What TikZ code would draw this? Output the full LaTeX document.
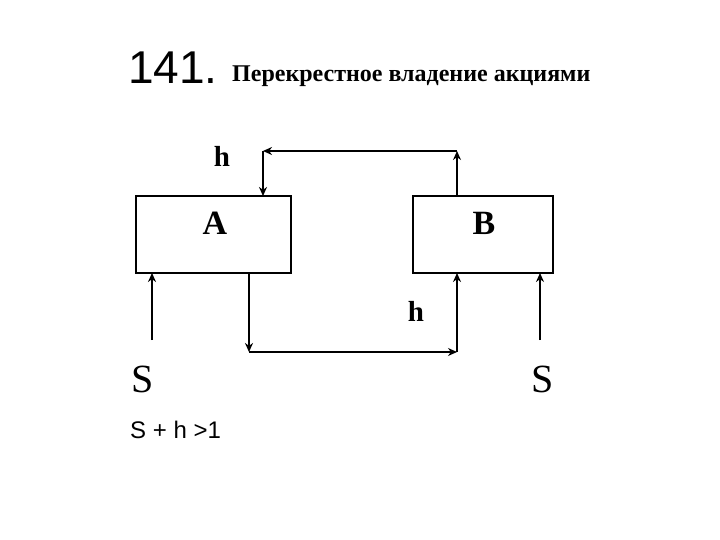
\documentclass[tikz,border=0pt]{standalone}
\usepackage{fontspec}
\setmainfont{Liberation Serif}
\newfontfamily\arial{Liberation Sans}
\usetikzlibrary{arrows.meta}
\begin{document}
\begin{tikzpicture}[x=1pt,y=-1pt,
  box/.style={draw,line width=1.5pt},
  seg/.style={line width=2.2pt,-{Stealth[length=9pt,width=8pt]}},
  lbl/.style={inner sep=0pt,font=\bfseries}]
\useasboundingbox (0,0) rectangle (720,540);
\node[anchor=base west,inner sep=0pt,font=\arial\fontsize{46}{46}\selectfont] (t1) at (128,84) {141.};
\node[anchor=base west,inner sep=0pt,font=\bfseries\fontsize{24}{24}\selectfont] (t2) at (232,82) {Перекрестное владение акциями};
\draw[box] (136,196) rectangle (291,273);
\node[minimum width=155pt,minimum height=77pt] (A) at (213.5,234.5) {};
\draw[box] (413,196) rectangle (553,273);
\node[minimum width=140pt,minimum height=77pt] (B) at (483,234.5) {};
\node[lbl,font=\bfseries\fontsize{34}{34}\selectfont] (la) at (215,223) {A};
\node[lbl,font=\bfseries\fontsize{34}{34}\selectfont] (lb) at (484,223) {B};
\coordinate (t1c) at (457,151);
\coordinate (t2c) at (263,151);
\coordinate (b1c) at (249,352);
\coordinate (b2c) at (457,352);
\draw[seg] (457,196) -- (t1c);
\draw[seg] (t1c) -- (t2c);
\draw[seg] (t2c) -- (263,196);
\draw[seg] (249,273) -- (b1c);
\draw[seg] (b1c) -- (b2c);
\draw[seg] (b2c) -- (457,273);
\draw[seg] (152,340) -- (152,273);
\draw[seg] (540,340) -- (540,273);
\node[lbl,font=\bfseries\fontsize{29}{29}\selectfont] (h1) at (222,156) {h};
\node[lbl,font=\bfseries\fontsize{29}{29}\selectfont] (h2) at (416,311) {h};
\node[inner sep=0pt,font=\fontsize{40}{40}\selectfont] (s1) at (143,379) {S};
\node[inner sep=0pt,font=\fontsize{40}{40}\selectfont] (s2) at (543,379) {S};
\node[anchor=west,inner sep=0pt,font=\arial\fontsize{24}{24}\selectfont] (eq) at (130,430) {S + h >1};
\end{tikzpicture}
\end{document}
